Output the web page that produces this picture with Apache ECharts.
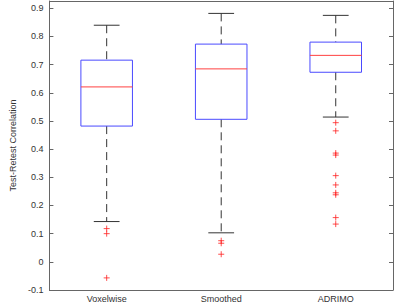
<!DOCTYPE html>
<html>
<head>
<meta charset="utf-8">
<script src="https://cdn.jsdelivr.net/npm/echarts@6/dist/echarts.min.js"></script>
<style>
	html, body { margin: 0; padding: 0; background: #fff; }
	#chart { width: 400px; height: 303px; }
</style>
</head>
<body>
<div id="chart"></div>
<script>
// Box statistics: [lower whisker, Q1, median, Q3, upper whisker]
const categories = [ 'Voxelwise', 'Smoothed', 'ADRIMO' ];
const voxelwiseStats = [ 0.143, 0.482, 0.621, 0.716, 0.840 ];
const smoothedStats = [ 0.103, 0.506, 0.685, 0.773, 0.882 ];
const adrimoStats = [ 0.514, 0.673, 0.733, 0.780, 0.875 ];

// Outliers per group
const voxelwiseOutliers = [ 0.118, 0.100, -0.057 ];
const smoothedOutliers = [ 0.075, 0.066, 0.027 ];
const adrimoOutliers = [ 0.494, 0.465, 0.386, 0.379, 0.306, 0.273, 0.245, 0.238, 0.157, 0.134 ];

const yTicks = [ -0.1, 0, 0.1, 0.2, 0.3, 0.4, 0.5, 0.6, 0.7, 0.8, 0.9 ];

const allStats = [ voxelwiseStats, smoothedStats, adrimoStats ];
const allOutliers = [ voxelwiseOutliers, smoothedOutliers, adrimoOutliers ];

const boxData = allStats.map( ( s, i ) => [ i ].concat( s ) );
const outlierData = [];
allOutliers.forEach( ( list, i ) => {
	list.forEach( ( v ) => outlierData.push( [ i, v ] ) );
} );

const axisColor = '#666';
const textColor = '#333';
const font = 'Liberation Sans, Arial, sans-serif';

const renderBox = ( params, api ) => {
	const x = api.value( 0 );
	const lo = api.coord( [ x, api.value( 1 ) ] );
	const q1 = api.coord( [ x, api.value( 2 ) ] );
	const med = api.coord( [ x, api.value( 3 ) ] );
	const q3 = api.coord( [ x, api.value( 4 ) ] );
	const hi = api.coord( [ x, api.value( 5 ) ] );
	const band = api.size( [ 1, 0 ] )[ 0 ];
	const boxW = band * 0.45;
	const capW = boxW / 2;
	const cx = lo[ 0 ];
	const whiskerStyle = { stroke: '#333', lineWidth: 1, lineDash: [ 8, 5 ] };
	const capStyle = { stroke: '#333', lineWidth: 1 };
	return {
		type: 'group',
		children: [
			{ type: 'line', shape: { x1: cx, y1: hi[ 1 ], x2: cx, y2: q3[ 1 ] }, style: whiskerStyle },
			{ type: 'line', shape: { x1: cx, y1: q1[ 1 ], x2: cx, y2: lo[ 1 ] }, style: whiskerStyle },
			{ type: 'line', shape: { x1: cx - capW / 2, y1: hi[ 1 ], x2: cx + capW / 2, y2: hi[ 1 ] }, style: capStyle },
			{ type: 'line', shape: { x1: cx - capW / 2, y1: lo[ 1 ], x2: cx + capW / 2, y2: lo[ 1 ] }, style: capStyle },
			{
				type: 'rect',
				shape: { x: cx - boxW / 2, y: q3[ 1 ], width: boxW, height: q1[ 1 ] - q3[ 1 ] },
				style: { fill: 'none', stroke: '#4a4aff', lineWidth: 1 }
			},
			{
				type: 'line',
				shape: { x1: cx - boxW / 2, y1: med[ 1 ], x2: cx + boxW / 2, y2: med[ 1 ] },
				style: { stroke: '#ff4040', lineWidth: 1 }
			}
		]
	};
};

const chart = echarts.init( document.getElementById( 'chart' ), null, { renderer: 'svg' } );

const yBase = {
	type: 'value',
	min: -0.1,
	max: 0.926,
	interval: 0.1,
	splitLine: { show: false },
	axisLine: { show: true, onZero: false, lineStyle: { color: axisColor } },
	axisTick: { show: true, inside: true, length: 4, lineStyle: { color: axisColor } }
};

const xBase = {
	type: 'category',
	data: categories,
	boundaryGap: true,
	axisLine: { show: true, onZero: false, lineStyle: { color: axisColor } },
	axisTick: { inside: true, length: 4, alignWithLabel: true, lineStyle: { color: axisColor } }
};

chart.setOption( {
	animation: false,
	grid: { left: 31, right: 7, top: 1, bottom: 13, containLabel: false },
	xAxis: [
		Object.assign( {}, xBase, {
			position: 'bottom',
			axisLabel: { color: textColor, fontSize: 9, fontFamily: font, margin: 4 }
		} ),
		Object.assign( {}, xBase, {
			position: 'top',
			axisLabel: { show: false }
		} )
	],
	yAxis: [
		Object.assign( {}, yBase, {
			name: 'Test-Retest Correlation',
			nameLocation: 'middle',
			nameGap: 28,
			nameTextStyle: { color: textColor, fontSize: 9, fontFamily: font },
			axisLabel: {
				color: textColor,
				fontSize: 9,
				fontFamily: font,
				margin: 6,
				formatter: ( v ) => {
					const r = Math.round( v * 10 ) / 10;
					return yTicks.includes( r ) ? String( r ) : '';
				}
			}
		} ),
		Object.assign( {}, yBase, {
			position: 'right',
			axisLabel: { show: false }
		} )
	],
	series: [
		{
			type: 'custom',
			xAxisIndex: 0,
			yAxisIndex: 0,
			renderItem: renderBox,
			encode: { x: 0, y: [ 1, 2, 3, 4, 5 ] },
			data: boxData,
			silent: true
		},
		{
			type: 'scatter',
			xAxisIndex: 0,
			yAxisIndex: 0,
			symbol: 'path://M0,-5 L0,5 M-5,0 L5,0',
			symbolSize: 6,
			itemStyle: { color: 'none', borderColor: '#ff2020', borderWidth: 1 },
			data: outlierData,
			silent: true
		}
	]
} );
</script>
</body>
</html>
